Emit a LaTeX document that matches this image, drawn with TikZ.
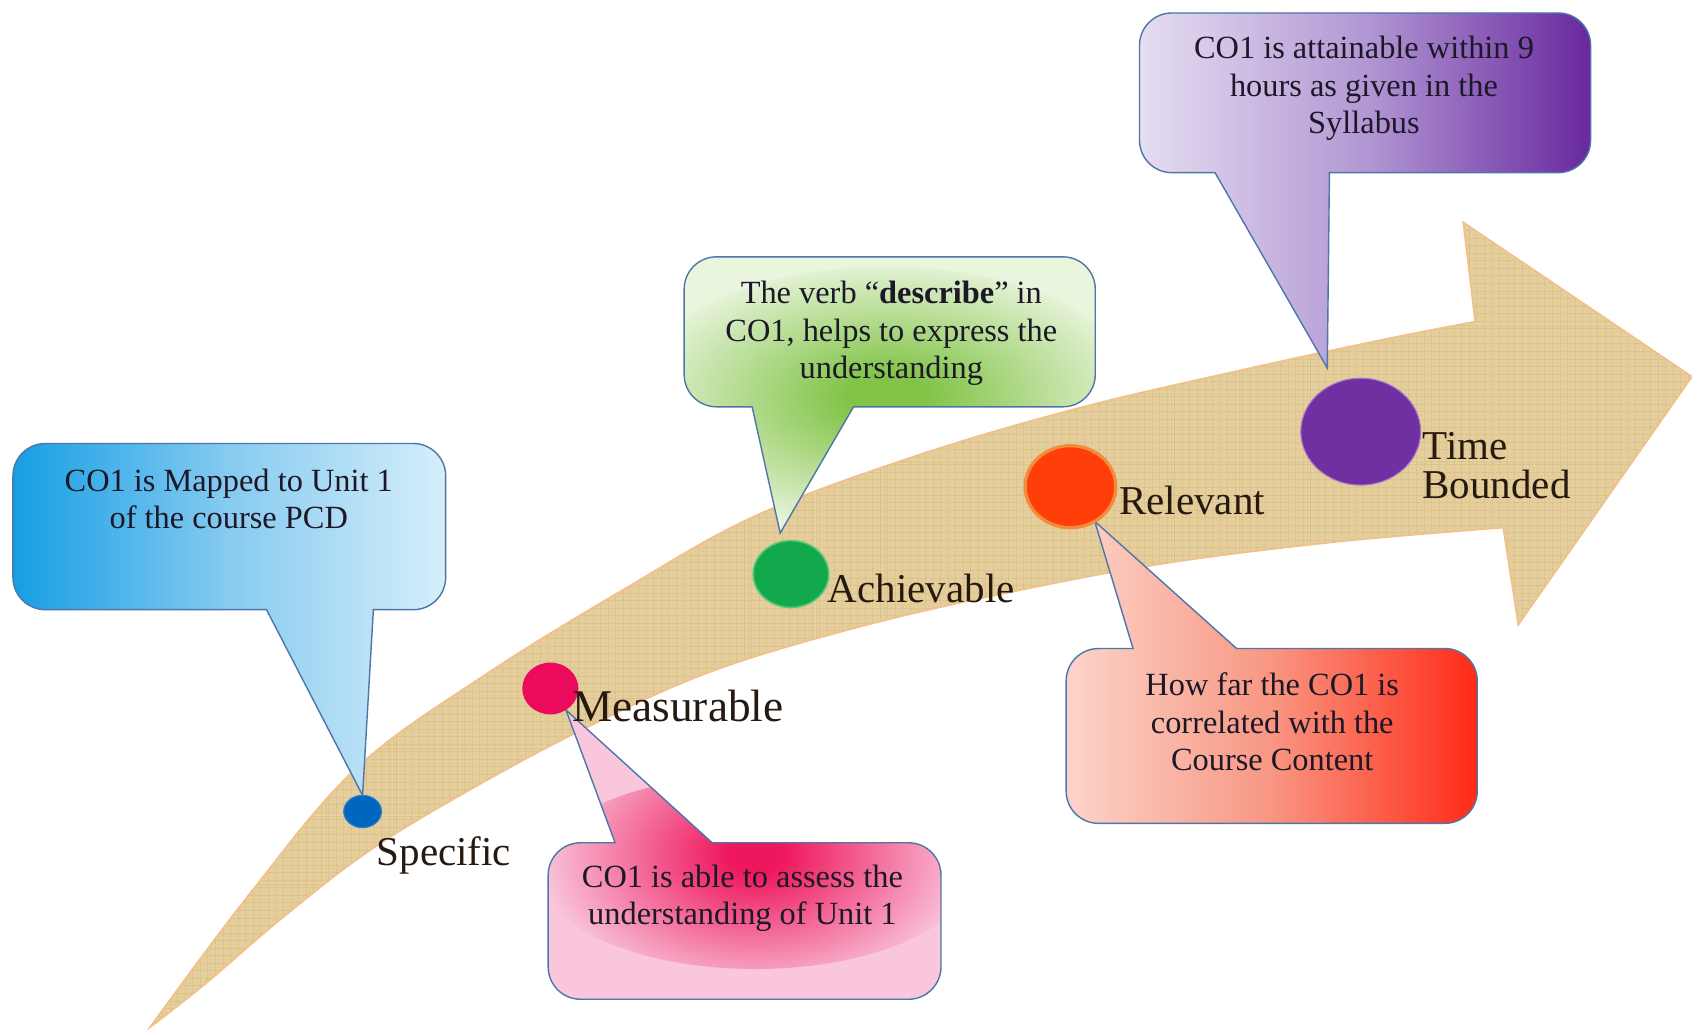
\documentclass[tikz,border=0pt]{standalone}
\usepackage{fontspec}
\setmainfont{Liberation Serif}
\usetikzlibrary{shapes.geometric}
\pgfdeclarelayer{under}
\pgfsetlayers{under,main}

% band and text colours
\definecolor{bandfill}{RGB}{230,207,155}
\definecolor{bandedge}{RGB}{243,192,140}
\definecolor{weave}{RGB}{150,120,70}
\definecolor{weavelight}{RGB}{250,235,200}
\definecolor{boxline}{RGB}{78,118,168}
\definecolor{ink}{RGB}{28,24,40}
\definecolor{labelink}{RGB}{38,26,16}
% callout fills
\definecolor{blueA}{RGB}{22,158,228}
\definecolor{blueB}{RGB}{135,203,240}
\definecolor{blueC}{RGB}{214,238,251}
\definecolor{pinkhot}{RGB}{238,22,92}
\definecolor{pinklight}{RGB}{249,198,220}
\definecolor{greenhot}{RGB}{130,196,72}
\definecolor{greenlight}{RGB}{234,245,222}
\definecolor{redA}{RGB}{252,212,202}
\definecolor{redB}{RGB}{248,150,130}
\definecolor{redC}{RGB}{255,42,22}
\definecolor{purA}{RGB}{230,222,242}
\definecolor{purB}{RGB}{178,152,212}
\definecolor{purC}{RGB}{104,40,158}
% stage markers
\definecolor{dotS}{RGB}{0,102,190}
\definecolor{dotSrim}{RGB}{40,130,210}
\definecolor{dotM}{RGB}{236,10,92}
\definecolor{dotG}{RGB}{18,168,76}
\definecolor{dotGrim}{RGB}{90,200,120}
\definecolor{dotR}{RGB}{255,62,10}
\definecolor{dotRrim}{RGB}{242,140,60}
\definecolor{dotT}{RGB}{112,48,162}
\definecolor{dotTrim}{RGB}{160,120,205}

% soft glows: full colour at the centre, fading out at the ellipse rim
\pgfdeclareradialshading{pinkglow}{\pgfpoint{0bp}{0bp}}{color(0bp)=(pinkhot); color(3bp)=(pinkhot); color(25bp)=(pinklight); color(50bp)=(pinklight)}
\pgfdeclareradialshading{greenglow}{\pgfpoint{0bp}{0bp}}{color(0bp)=(greenhot); color(4bp)=(greenhot); color(25bp)=(greenlight); color(50bp)=(greenlight)}

\begin{document}
\begin{tikzpicture}[x=1pt,y=-1pt,
  callout/.style={draw=boxline, line width=1.3pt},
  cotext/.style={font=\fontsize{30}{35}\selectfont, text=ink, align=center, inner sep=0pt, anchor=north},
  stage/.style={font=\fontsize{38}{34}\selectfont, text=labelink, inner sep=0pt, anchor=base west},
  marker/.style={ellipse, inner sep=0pt, outer sep=0pt}]
\useasboundingbox (0,0) rectangle (1568,954);

% stage markers on the arrow
\node[marker, fill=dotS, draw=dotSrim, line width=1pt, minimum width=35pt, minimum height=30pt] (sdot) at (336,752) {};
\node[marker, fill=dotM, minimum width=52pt, minimum height=48pt] (mdot) at (510,638) {};
\node[marker, fill=dotG, draw=dotGrim, line width=1.5pt, minimum width=70pt, minimum height=62pt] (gdot) at (733,532) {};
\node[marker, fill=dotR, draw=dotRrim, line width=3pt, minimum width=84pt, minimum height=76pt] (rdot) at (992,451) {};
\node[marker, fill=dotT, draw=dotTrim, line width=1pt, minimum width=111pt, minimum height=99pt] (tdot) at (1261,400) {};
\coordinate (gtip) at (723,494);
\coordinate (ttip) at (1230,341);

\begin{pgfonlayer}{under}
\fill[white] (0,0) rectangle (1568,954);

% curved burlap arrow
\path[draw=bandedge, line width=1.5pt, fill=bandfill,
      path picture={
        \draw[weave, line width=0.5pt, opacity=0.15, xstep=3.5pt, ystep=3.5pt] (120,190) grid (1580,960);
        \draw[weavelight, line width=0.6pt, opacity=0.25, xstep=7pt, ystep=7pt] (121.7,191.7) grid (1580,960);}]
  (139,952) -- plot[smooth, tension=0.6] coordinates {(139,952) (230,830) (330,712) (450,625) (580,545) (700,478) (850,422) (1000,378) (1150,343) (1280,315) (1367,298)}
  -- (1356,206) -- (1568,349) -- (1407,579) -- (1393,489)
  -- plot[smooth, tension=0.6] coordinates {(1393,489) (1240,502) (1080,522) (940,548) (800,580) (660,622) (540,676) (430,735) (340,790) (260,852) (190,912) (139,952)}
  -- cycle;

% callouts: rounded box corners, sharp tail
\path[callout, left color=blueA, right color=blueC, middle color=blueB]
  (212,411) [rounded corners=30pt] -- (413,411) -- (413,565) [sharp corners] -- (346,565) -- (sdot.north) -- (247,565) -- (130,565) [rounded corners=30pt] -- (12,565) -- (12,411) -- cycle;

\path[callout, fill=pinklight, path picture={\shade[shading=pinkglow] (700,808) ellipse [x radius=200, y radius=90];}]
  (690,926) [rounded corners=30pt] -- (508,926) -- (508,781) [sharp corners] -- (570,781) -- (mdot.-54) -- (660,781) -- (766,781) [rounded corners=30pt] -- (872,781) -- (872,926) -- cycle;

\path[callout, fill=greenlight, path picture={\shade[shading=greenglow] (822,372) ellipse [x radius=240, y radius=125];}]
  (825,238) [rounded corners=30pt] -- (634,238) -- (634,377) [sharp corners] -- (697,377) -- (gtip) -- (791,377) -- (903,377) [rounded corners=30pt] -- (1015,377) -- (1015,238) -- cycle;

\path[callout, left color=redA, right color=redC, middle color=redB]
  (1178,763) [rounded corners=30pt] -- (988,763) -- (988,601) [sharp corners] -- (1050,601) -- (rdot.-55) -- (1146,601) -- (1258,601) [rounded corners=30pt] -- (1369,601) -- (1369,763) -- cycle;

\path[callout, left color=purA, right color=purC, middle color=purB]
  (1265,12) [rounded corners=30pt] -- (1056,12) -- (1056,160) [sharp corners] -- (1126,160) -- (ttip) -- (1232,160) -- (1353,160) [rounded corners=30pt] -- (1474,160) -- (1474,12) -- cycle;
\end{pgfonlayer}

% callout texts
\node[cotext] (stxt) at (212,434) {CO1 is Mapped to Unit 1\\of the course PCD};
\node[cotext] (mtxt) at (688,801) {CO1 is able to assess the\\understanding of Unit 1};
\node[cotext] (gtxt) at (826,260) {The verb “\textbf{describe}” in\\CO1, helps to express the\\understanding};
\node[cotext] (rtxt) at (1179,623) {How far the CO1 is\\correlated with the\\Course Content};
\node[cotext] (ttxt) at (1264,33) {CO1 is attainable within 9\\hours as given in the\\Syllabus};

% stage labels
\node[stage] (slab) at (349,802) {Specific};
\node[stage, font=\fontsize{42}{42}\selectfont] (mlab) at (530,669) {Measurable};
\node[stage] (glab) at (767,558) {Achievable};
\node[stage] (rlab) at (1037,477) {Relevant};
\node[stage] (tlab) at (1318,426) {Time};
\node[stage] (blab) at (1318,462) {Bounded};
\end{tikzpicture}
\end{document}
